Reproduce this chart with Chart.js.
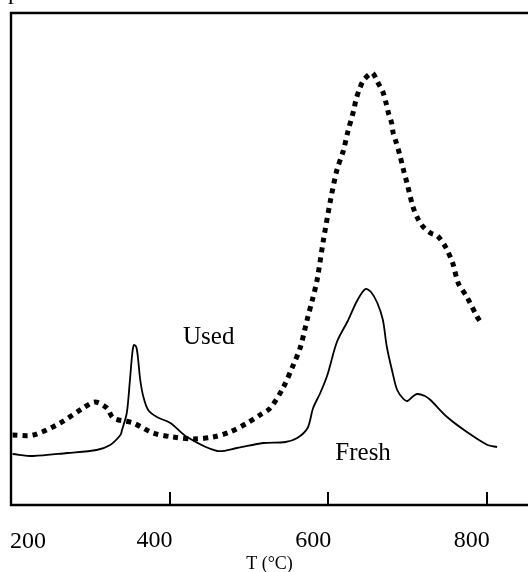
<!DOCTYPE html>
<html>
<head>
<meta charset="utf-8">
<script src="https://cdn.jsdelivr.net/npm/chart.js@4.4.1/dist/chart.umd.min.js"></script>
<style>
  html, body { margin: 0; padding: 0; background: #fff; }
  #wrap { width: 528px; height: 572px; position: relative; }
</style>
</head>
<body>
<div id="wrap"><canvas id="tpo"></canvas></div>
<script>
// temperature (°C) and signal (arbitrary units)
const freshT = [202, 228, 271, 308, 325, 338, 340, 346, 350, 353, 355, 358, 360, 363, 367, 373, 384, 401,
  422, 460, 485, 518, 546, 561, 574, 581, 590, 599, 611, 624, 637, 647, 654, 662, 669, 674, 681, 687,
  695, 700, 706, 712, 722, 729, 750, 775, 801, 813];
const freshI = [51, 49, 52, 55, 60, 70, 75, 92, 125, 152, 160, 158, 148, 125, 108, 95, 88, 82,
  68, 54, 57, 62, 63, 67, 77, 97, 112, 130, 163, 183, 205, 216, 213, 202, 185, 158, 133, 115,
  106, 104, 108, 111, 109, 105, 88, 73, 60, 58];

const usedT = [202, 228, 262, 291, 306, 321, 329, 354, 379, 404, 430, 455, 476, 498, 514, 527, 543, 556,
  565, 574, 580, 586, 594, 603, 611, 619, 625, 632, 635, 639, 644, 651, 656, 663, 669, 673, 676, 680,
  682, 686, 690, 695, 700, 707, 714, 720, 729, 738, 748, 757, 764, 775, 788, 792];
const usedI = [70, 70, 82, 97, 103, 97, 87, 82, 72, 68, 66, 68, 73, 82, 90, 97, 117, 140,
  158, 187, 205, 225, 265, 305, 335, 354, 374, 394, 405, 415, 424, 430, 432, 422, 413, 402, 392, 382,
  372, 362, 351, 335, 320, 298, 285, 278, 272, 269, 258, 242, 222, 208, 188, 183];

const tickValues = [400, 600, 800];
const firstTickLabel = '200';
const seriesLabels = [
  { text: 'Used', x: 417, y: 161 },
  { text: 'Fresh', x: 609, y: 45 }
];

const SERIF = '"Liberation Serif", "Times New Roman", serif';

function toPoints(xs, ys) {
  return xs.map((x, i) => ({ x: x, y: ys[i] }));
}

// frame, inward ticks, the left-most tick label and the curve names
const framePlugin = {
  id: 'frame',
  afterDraw(chart) {
    const { ctx, chartArea } = chart;
    const sx = chart.scales.x;
    const sy = chart.scales.y;
    ctx.save();
    ctx.strokeStyle = '#000';
    ctx.lineWidth = 2.4;
    ctx.beginPath();
    ctx.moveTo(chartArea.right + 5, chartArea.top);
    ctx.lineTo(chartArea.left, chartArea.top);
    ctx.lineTo(chartArea.left, chartArea.bottom);
    ctx.lineTo(chartArea.right + 5, chartArea.bottom);
    ctx.stroke();

    ctx.lineWidth = 2;
    tickValues.forEach(v => {
      const px = Math.round(sx.getPixelForValue(v));
      ctx.beginPath();
      ctx.moveTo(px, chartArea.bottom);
      ctx.lineTo(px, chartArea.bottom - 13);
      ctx.stroke();
    });

    ctx.fillStyle = '#000';
    ctx.font = '24px ' + SERIF;
    ctx.textAlign = 'left';
    ctx.textBaseline = 'alphabetic';
    ctx.fillText(firstTickLabel, sx.getPixelForValue(200) - 1, 548);

    ctx.font = '25px ' + SERIF;
    seriesLabels.forEach(l => {
      ctx.fillText(l.text, sx.getPixelForValue(l.x), sy.getPixelForValue(l.y));
    });

    // clipped axis letter at the very top
    ctx.font = '24px ' + SERIF;
    ctx.fillText('p', 8, -1);
    ctx.restore();
  }
};

new Chart(document.getElementById('tpo'), {
  type: 'line',
  data: {
    datasets: [
      {
        label: 'Used',
        data: toPoints(usedT, usedI),
        borderColor: '#000',
        borderWidth: 5,
        borderDash: [5, 5],
        borderCapStyle: 'butt',
        pointRadius: 0,
        tension: 0.3,
        fill: false
      },
      {
        label: 'Fresh',
        data: toPoints(freshT, freshI),
        borderColor: '#000',
        borderWidth: 1.8,
        pointRadius: 0,
        tension: 0.3,
        fill: false
      }
    ]
  },
  options: {
    responsive: true,
    maintainAspectRatio: false,
    animation: false,
    layout: { padding: { left: 11, top: 13, right: 0, bottom: 0 } },
    plugins: {
      legend: { display: false },
      tooltip: { enabled: false }
    },
    scales: {
      x: {
        type: 'linear',
        min: 200,
        max: 852,
        afterBuildTicks: scale => {
          scale.ticks = tickValues.map(v => ({ value: v }));
        },
        afterFit: scale => { scale.height = 67; },
        grid: { display: false, drawTicks: false },
        border: { display: false },
        ticks: {
          align: 'end',
          labelOffset: 3,
          padding: 21,
          color: '#000',
          maxRotation: 0,
          font: { family: SERIF, size: 24 }
        },
        title: {
          display: true,
          text: 'T (°C)',
          color: '#000',
          font: { family: SERIF, size: 18 },
          padding: { top: 0, bottom: -3 }
        }
      },
      y: {
        display: false,
        min: 0,
        max: 492
      }
    }
  },
  plugins: [framePlugin]
});
</script>
</body>
</html>
